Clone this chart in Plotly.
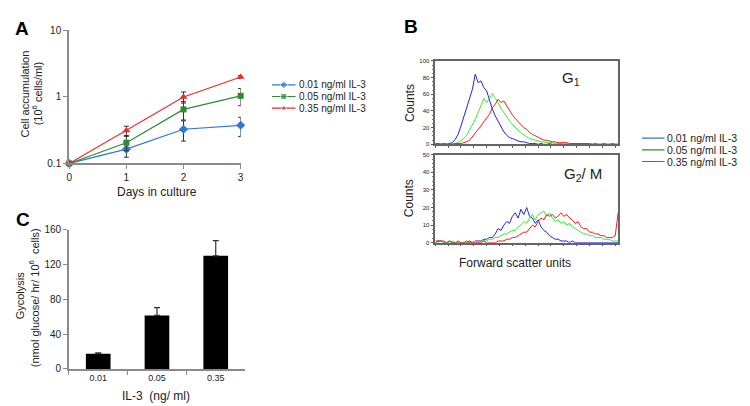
import plotly.graph_objects as go

# ---------------- Panel A data ----------------
days = [0, 1, 2, 3]
a_low = [0.1, 0.164, 0.327, 0.375]
a_low_err = [0, 0.04, 0.11, 0.12]
a_mid = [0.1, 0.205, 0.65, 1.04]
a_mid_err = [0, 0.05, 0.2, 0.3]
a_high = [0.1, 0.313, 1.0, 2.0]
a_high_err = [0, 0.05, 0.19, 0.1]
series_names = ["0.01 ng/ml IL-3", "0.05 ng/ml IL-3", "0.35 ng/ml IL-3"]

# ---------------- Panel B data (forward scatter histograms) ----------------
fsc_channels = list(range(0, 257, 4))
g1_low = [0, 1, 0, 1, 0, 1, 2, 6, 12, 22,
          33, 46, 57, 66, 84, 74, 76, 68, 64, 52,
          42, 34, 27, 20, 15, 11, 8, 7, 5, 4,
          3, 3, 2, 1, 1, 1, 0, 1, 0, 0,
          1, 0, 0, 0, 0, 0, 0, 0, 0, 0,
          0, 0, 0, 0, 0, 0, 0, 0, 0, 0,
          0, 0, 0, 0, 0]
g1_mid = [0, 0, 1, 0, 1, 0, 1, 1, 2, 4,
          7, 11, 17, 24, 30, 38, 46, 55, 50, 56,
          61, 55, 50, 43, 38, 32, 28, 24, 20, 17,
          14, 11, 9, 7, 6, 5, 4, 3, 3, 2,
          2, 2, 1, 1, 1, 0, 1, 0, 0, 0,
          0, 0, 0, 0, 0, 0, 0, 0, 0, 0,
          0, 0, 0, 0, 0]
g1_high = [1, 1, 0, 1, 0, 1, 0, 1, 1, 1,
           2, 3, 5, 9, 13, 17, 22, 27, 32, 36,
           44, 48, 54, 50, 52, 46, 40, 35, 31, 27,
           23, 20, 18, 14, 12, 10, 9, 7, 5, 5,
           4, 3, 3, 2, 2, 2, 2, 1, 1, 1,
           1, 1, 1, 1, 1, 0, 1, 0, 0, 1,
           0, 0, 1, 0, 0]
g2m_low = [0, 1, 1, 0, 0, 1, 0, 0, 0, 0,
           0, 0, 1, 0, 1, 1, 1, 2, 2, 3,
           3, 5, 8, 7, 10, 12, 11, 15, 17, 14,
           19, 16, 20, 15, 14, 11, 13, 9, 7, 6,
           4, 3, 2, 2, 1, 1, 1, 0, 1, 0,
           0, 0, 0, 0, 0, 0, 0, 0, 0, 0,
           0, 0, 0, 0, 0]
g2m_mid = [0, 0, 1, 0, 0, 0, 1, 0, 0, 0,
           0, 0, 0, 0, 1, 0, 1, 1, 1, 2,
           2, 3, 3, 4, 5, 5, 6, 7, 7, 9,
           10, 12, 11, 14, 16, 13, 16, 17, 18, 15,
           17, 14, 12, 13, 11, 12, 10, 11, 9, 8,
           7, 6, 5, 5, 4, 4, 3, 3, 3, 2,
           2, 2, 1, 1, 1]
g2m_high = [1, 1, 1, 1, 0, 1, 0, 0, 1, 0,
            0, 1, 0, 0, 0, 0, 0, 1, 0, 0,
            0, 0, 1, 1, 1, 2, 2, 3, 3, 4,
            5, 6, 6, 8, 10, 9, 12, 14, 13, 16,
            15, 16, 14, 15, 17, 15, 16, 14, 13, 11,
            12, 9, 8, 8, 6, 6, 5, 5, 4, 4,
            3, 3, 3, 4, 17]

# ---------------- Panel C data ----------------
il3_labels = ["0.01", "0.05", "0.35"]
glycolysis = [17.5, 61.5, 130]
glycolysis_err = [1, 9, 17.5]

W, H = 750, 406
def px(x):
    return x / W
def py(y):
    return 1 - y / H

FONT = "Liberation Sans, Arial, sans-serif"
TXT = "#222222"
AXC = "#8a8a8a"
ERRC = "#333333"

leg_colors = ["#2f78d6", "#2e8b2e", "#ee2a2a"]
markers = ["diamond", "square", "triangle-up"]
hist_colors = ["#2424e0", "#33ee33", "#ff1a1a"]

fig = go.Figure()

# ---- Panel A traces ----
for vals, errs, col, sym, name in zip([a_low, a_mid, a_high],
                                      [a_low_err, a_mid_err, a_high_err],
                                      leg_colors, markers, series_names):
    fig.add_trace(go.Scatter(
        x=days, y=vals, mode="lines+markers", name=name,
        line=dict(color=col, width=1.2),
        marker=dict(symbol=sym, size=7 if sym != "square" else 6, color=col),
        error_y=dict(type="data", array=errs, color=ERRC, thickness=1, width=2.5),
        xaxis="x", yaxis="y", showlegend=False, cliponaxis=False))

# ---- Panel B traces ----
for vals, col in zip([g1_low, g1_mid, g1_high], hist_colors):
    fig.add_trace(go.Scatter(x=fsc_channels, y=vals, mode="lines",
                             line=dict(color=col, width=1), xaxis="x2", yaxis="y2",
                             showlegend=False))
for vals, col in zip([g2m_low, g2m_mid, g2m_high], hist_colors):
    fig.add_trace(go.Scatter(x=fsc_channels, y=vals, mode="lines",
                             line=dict(color=col, width=1), xaxis="x3", yaxis="y3",
                             showlegend=False, cliponaxis=False))

# ---- Panel C trace ----
fig.add_trace(go.Bar(x=il3_labels, y=glycolysis, width=0.42,
                     marker=dict(color="black", line=dict(width=0)),
                     error_y=dict(type="data", array=glycolysis_err,
                                  arrayminus=[0, 0, 0], symmetric=False,
                                  color="#333333", thickness=1.2, width=3),
                     xaxis="x4", yaxis="y4", showlegend=False))

# ---- Manual legends (compact rows) ----
for i, (col, sym) in enumerate(zip(leg_colors, markers)):
    fig.add_trace(go.Scatter(x=[0, 0.5, 1], y=[i, i, i], mode="lines+markers",
                             line=dict(color=col, width=1.2),
                             marker=dict(symbol=sym, size=[0, 6, 0], color=col),
                             xaxis="x5", yaxis="y5", showlegend=False,
                             hoverinfo="skip"))
    fig.add_trace(go.Scatter(x=[0, 1], y=[i, i], mode="lines",
                             line=dict(color=col, width=1.2),
                             xaxis="x6", yaxis="y6", showlegend=False,
                             hoverinfo="skip"))

tickfont = dict(family=FONT, size=10, color=TXT)

fig.update_layout(
    width=W, height=H, margin=dict(l=0, r=0, t=0, b=0),
    paper_bgcolor="white", plot_bgcolor="white",
    font=dict(family=FONT, color=TXT),
    # Panel A
    xaxis=dict(domain=[px(58.7), px(231.5)], range=[0, 3], tickvals=days,
               ticks="outside", ticklen=4, tickcolor=AXC, showline=True,
               linecolor=AXC, linewidth=2, showgrid=False, zeroline=False,
               tickfont=tickfont, anchor="y"),
    yaxis=dict(domain=[py(154), py(17)], type="log", range=[-1, 1],
               tickvals=[0.1, 1, 10], ticktext=["0.1", "1", "10"],
               ticks="outside", ticklen=4, tickcolor=AXC, showline=True,
               linecolor=AXC, linewidth=2, showgrid=False, zeroline=False,
               tickfont=tickfont, anchor="x"),
    # Panel B top
    xaxis2=dict(domain=[px(427.7), px(612)], range=[0, 256], dtick=18, tick0=0,
                ticks="outside", ticklen=2, tickcolor="#555", showticklabels=False,
                showline=True, mirror=True, linecolor="#666", linewidth=1.5,
                showgrid=False, zeroline=False, anchor="y2"),
    yaxis2=dict(domain=[py(134.3), py(48.3)], range=[0, 100], dtick=20,
                ticks="outside", ticklen=3, tickcolor="#555",
                minor=dict(dtick=5, ticks="outside", ticklen=2, tickcolor="#777"),
                tickfont=dict(family=FONT, size=6, color=TXT),
                showline=True, mirror=True, linecolor="#666", linewidth=1.5,
                showgrid=False, zeroline=False, anchor="x2"),
    # Panel B bottom
    xaxis3=dict(domain=[px(427.7), px(612)], range=[0, 256], dtick=18, tick0=0,
                ticks="outside", ticklen=2, tickcolor="#555", showticklabels=False,
                showline=True, mirror=True, linecolor="#666", linewidth=1.5,
                showgrid=False, zeroline=False, anchor="y3"),
    yaxis3=dict(domain=[py(235.7), py(145)], range=[0, 50], dtick=10,
                ticks="outside", ticklen=3, tickcolor="#555",
                minor=dict(dtick=2.5, ticks="outside", ticklen=2, tickcolor="#777"),
                tickfont=dict(family=FONT, size=6, color=TXT),
                showline=True, mirror=True, linecolor="#666", linewidth=1.5,
                showgrid=False, zeroline=False, anchor="x3"),
    # Panel C
    xaxis4=dict(domain=[px(58.3), px(236)], range=[-0.5, 2.5], type="category",
                ticks="outside", tickson="boundaries", ticklen=4, tickcolor=AXC,
                showline=True, linecolor=AXC, linewidth=1.5, showgrid=False,
                tickfont=dict(family=FONT, size=9, color=TXT), anchor="y4"),
    yaxis4=dict(domain=[py(365.7), py(222.3)], range=[0, 160], dtick=40,
                ticks="outside", ticklen=4, tickcolor=AXC, showline=True,
                linecolor=AXC, linewidth=1.5, showgrid=False, zeroline=False,
                tickfont=tickfont, anchor="x4"),
    # Legend A axes
    xaxis5=dict(domain=[px(263), px(287)], range=[0, 1], visible=False, anchor="y5"),
    yaxis5=dict(domain=[py(103), py(67)], range=[2.5, -0.5], visible=False, anchor="x5"),
    # Legend B axes
    xaxis6=dict(domain=[px(636), px(659)], range=[0, 1], visible=False, anchor="y6"),
    yaxis6=dict(domain=[py(158), py(122)], range=[2.5, -0.5], visible=False, anchor="x6"),
)

ann = []
def text(x, y, s, size, angle=0, bold=False, xanchor="center"):
    ann.append(dict(x=px(x), y=py(y), xref="paper", yref="paper", text=s,
                    showarrow=False, textangle=angle, xanchor=xanchor, yanchor="middle",
                    font=dict(family=FONT, size=size, color="black" if bold else TXT)))

# panel letters
text(11, 15, "<b>A</b>", 19, bold=True)
text(403, 13, "<b>B</b>", 19, bold=True)
text(12, 212, "<b>C</b>", 19, bold=True)

# Panel A titles
text(14, 82, "Cell accumulation", 11, angle=-90)
text(26, 82, "(10<sup>6</sup> cells/ml)", 11, angle=-90)
text(147, 183, "Days in culture", 12)

# Legend A labels
for i, name in enumerate(series_names):
    text(288, 73 + 12 * i, name, 10, xanchor="left")

# Panel B
text(402, 92, "Counts", 12, angle=-90)
text(402, 190, "Counts", 12, angle=-90)
text(565, 66, "G<sub>1</sub>", 15)
text(577, 165, "G<sub>2</sub>/ M", 15)
text(508, 257, "Forward scatter units", 12)
for i, name in enumerate(series_names):
    text(659, 128 + 12 * i, name, 10.5, xanchor="left")

# Panel C
text(10, 290, "Gycolysis", 11, angle=-90)
text(24, 292, "(nmol glucose/ hr/ 10<sup>6</sup>  cells)", 11, angle=-90)
text(146, 394, "IL-3  (ng/ ml)", 12)

fig.update_layout(annotations=ann)
fig.write_html("out.html")
